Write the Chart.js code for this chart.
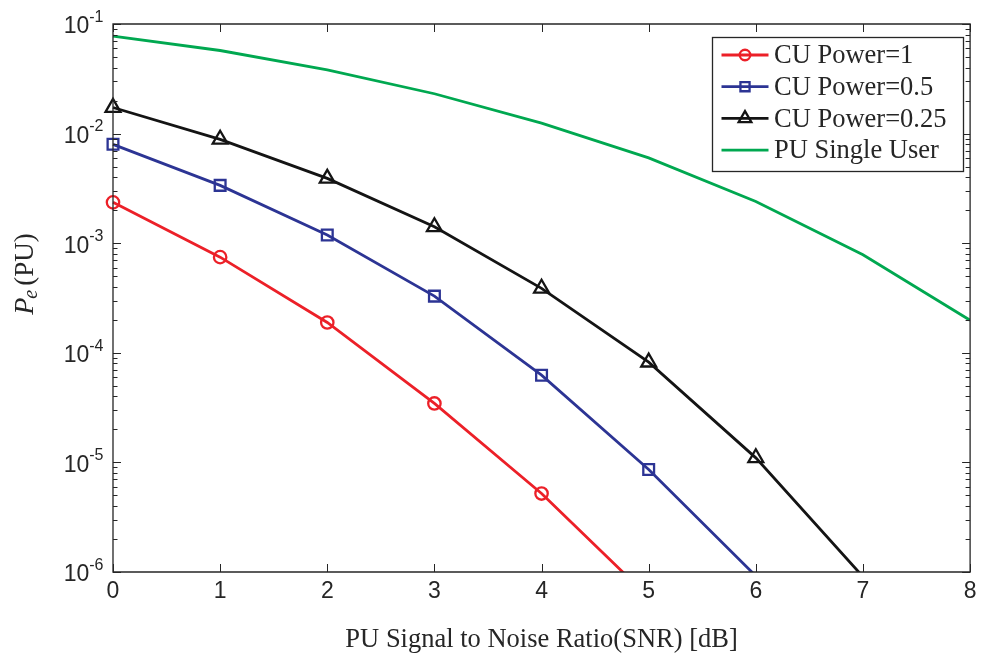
<!DOCTYPE html>
<html>
<head>
<meta charset="utf-8">
<script src="https://cdn.jsdelivr.net/npm/chart.js@4.4.1/dist/chart.umd.min.js"></script>
<style>
html,body{margin:0;padding:0;background:#fff;}
#wrap{width:981px;height:656px;position:relative;}
</style>
</head>
<body>
<div id="wrap"><canvas id="c" width="981" height="656"></canvas></div>
<script>
// ---- data ----
const snrDb = [0, 1, 2, 3, 4, 5, 6, 7, 8];
const cuPower1 = [2.36e-3, 7.46e-4, 1.89e-4, 3.45e-5, 5.20e-6, 5.9e-7];
const cuPower05 = [7.98e-3, 3.37e-3, 1.19e-3, 3.29e-4, 6.25e-5, 8.61e-6, 9.2e-7];
const cuPower025 = [1.73e-2, 8.86e-3, 3.90e-3, 1.41e-3, 3.87e-4, 8.21e-5, 1.10e-5, 9.06e-7];
const puSingleUser = [0.0774, 0.0573, 0.0382, 0.0231, 0.01245, 6.0e-3, 2.40e-3, 7.85e-4, 1.98e-4];
const seriesNames = ['CU Power=1', 'CU Power=0.5', 'CU Power=0.25', 'PU Single User'];
const xTicks = [0, 1, 2, 3, 4, 5, 6, 7, 8];
const yDecades = [-6, -5, -4, -3, -2, -1];
const xTitle = 'PU Signal to Noise Ratio(SNR) [dB]';
const Y_MIN = 1e-6, Y_MAX = 1e-1;

const RED = 'rgb(236,32,40)';
const BLUE = 'rgb(44,52,148)';
const BLACK = 'rgb(20,20,20)';
const GREEN = 'rgb(0,168,80)';
const AXIS = '#262626';

function pts(arr) { return arr.map((v, i) => ({ x: snrDb[i], y: v })); }

const styles = [
  { color: RED, pointStyle: 'circle', radius: 6.2 },
  { color: BLUE, pointStyle: 'rect', radius: 7.6 },
  { color: BLACK, pointStyle: 'triangle', radius: 8.6 },
  { color: GREEN, pointStyle: false, radius: 0 }
];
const seriesData = [cuPower1, cuPower05, cuPower025, puSingleUser];

const datasets = seriesData.map((arr, i) => ({
  label: seriesNames[i],
  data: pts(arr),
  borderColor: styles[i].color,
  borderWidth: 2.8,
  pointStyle: styles[i].pointStyle,
  pointRadius: (c) => (c.raw && c.raw.y < Y_MIN) ? 0 : styles[i].radius,
  pointBorderWidth: 2.3,
  pointBorderColor: styles[i].color,
  pointBackgroundColor: 'rgba(0,0,0,0)',
  tension: 0,
  fill: false,
  clip: { left: 12, top: 0, right: 0, bottom: 0 }
}));

const CA = { left: 113, right: 972, top: 24, bottom: 572 };

const framePlugin = {
  id: 'frame',
  afterDraw(chart) {
    const ctx = chart.ctx;
    const xs = chart.scales.x, ys = chart.scales.y;
    const a = chart.chartArea;
    ctx.save();
    ctx.strokeStyle = AXIS;
    ctx.lineWidth = 1.3;
    ctx.beginPath();
    ctx.rect(a.left, a.top, a.right - a.left, a.bottom - a.top);
    ctx.stroke();
    ctx.lineWidth = 1;
    ctx.beginPath();
    xTicks.forEach(v => {
      const px = Math.round(xs.getPixelForValue(v)) + 0.5;
      ctx.moveTo(px, a.bottom); ctx.lineTo(px, a.bottom - 8);
      ctx.moveTo(px, a.top); ctx.lineTo(px, a.top + 8);
    });
    yDecades.forEach(k => {
      const py = Math.round(ys.getPixelForValue(Math.pow(10, k))) + 0.5;
      ctx.moveTo(a.left, py); ctx.lineTo(a.left + 8, py);
      ctx.moveTo(a.right, py); ctx.lineTo(a.right - 8, py);
      if (k < -1) {
        for (let m = 2; m <= 9; m++) {
          const pm = Math.round(ys.getPixelForValue(m * Math.pow(10, k))) + 0.5;
          ctx.moveTo(a.left, pm); ctx.lineTo(a.left + 4.5, pm);
          ctx.moveTo(a.right, pm); ctx.lineTo(a.right - 4.5, pm);
        }
      }
    });
    ctx.stroke();

    // y tick labels with superscripts
    ctx.fillStyle = AXIS;
    ctx.textBaseline = 'alphabetic';
    ctx.textAlign = 'left';
    yDecades.forEach(k => {
      const py = ys.getPixelForValue(Math.pow(10, k));
      const sup = String(k);
      ctx.font = '16px "Liberation Sans", Arial, sans-serif';
      const ws = ctx.measureText(sup).width;
      ctx.font = '23px "Liberation Sans", Arial, sans-serif';
      const wb = ctx.measureText('10').width;
      const right = a.left - 9.5;
      ctx.fillText('10', right - ws - wb, py + 9.4);
      ctx.font = '16px "Liberation Sans", Arial, sans-serif';
      ctx.fillText(sup, right - ws, py - 2.3);
    });

    // x axis title
    ctx.font = '26.5px "Liberation Serif", "Times New Roman", serif';
    ctx.textAlign = 'center';
    ctx.fillText(xTitle, (a.left + a.right) / 2, 646.5);

    // y axis title  P_e(PU)
    ctx.save();
    ctx.translate(33, 274);
    ctx.rotate(-Math.PI / 2);
    ctx.textAlign = 'left';
    const fP = 'italic 28px "Liberation Serif", "Times New Roman", serif';
    const fe = 'italic 20px "Liberation Serif", "Times New Roman", serif';
    const fR = '27px "Liberation Serif", "Times New Roman", serif';
    ctx.font = fP; const wP = ctx.measureText('P').width;
    ctx.font = fe; const we = ctx.measureText('e').width;
    ctx.font = fR; const wR = ctx.measureText('(PU)').width;
    const total = wP + we + 3 + wR;
    let x0 = -total / 2;
    ctx.font = fP; ctx.fillText('P', x0, 0);
    ctx.font = fe; ctx.fillText('e', x0 + wP - 1, 4);
    ctx.font = fR; ctx.fillText('(PU)', x0 + wP + we + 3, 0);
    ctx.restore();

    // legend
    const lx = 712, ly = 37, lw = 251, lh = 134;
    ctx.fillStyle = '#fff';
    ctx.fillRect(lx, ly, lw, lh);
    ctx.strokeStyle = AXIS;
    ctx.lineWidth = 1.3;
    ctx.strokeRect(lx + 0.5, ly + 0.5, lw, lh);
    seriesNames.forEach((name, i) => {
      const base = 63.3 + i * 31.7;
      const yl = base - 8.3;
      ctx.strokeStyle = styles[i].color;
      ctx.lineWidth = 2.8;
      ctx.beginPath();
      ctx.moveTo(721.5, yl); ctx.lineTo(768.5, yl);
      ctx.stroke();
      if (styles[i].pointStyle) {
        ctx.lineWidth = 2.3;
        ctx.fillStyle = 'rgba(0,0,0,0)';
        Chart.helpers.drawPoint(ctx, {
          pointStyle: styles[i].pointStyle,
          radius: styles[i].radius * 0.85,
          rotation: 0,
          borderWidth: 2.3
        }, 745, yl);
      }
      ctx.fillStyle = AXIS;
      ctx.font = '26.5px "Liberation Serif", "Times New Roman", serif';
      ctx.textAlign = 'left';
      ctx.fillText(name, 774, base);
    });
    ctx.restore();
  }
};

new Chart(document.getElementById('c'), {
  type: 'line',
  data: { datasets: datasets },
  options: {
    responsive: false,
    animation: false,
    events: [],
    layout: { padding: { left: 0, right: 981 - CA.right, top: CA.top, bottom: 0 } },
    plugins: { legend: { display: false }, tooltip: { enabled: false } },
    scales: {
      x: {
        type: 'linear',
        min: 0, max: 8,
        afterBuildTicks(s) { s.ticks = xTicks.map(v => ({ value: v })); },
        ticks: {
          color: AXIS,
          font: { family: '"Liberation Sans", Arial, sans-serif', size: 23 },
          padding: 6,
          maxRotation: 0,
          autoSkip: false
        },
        grid: { display: false, drawTicks: false },
        border: { display: false },
        afterFit(s) { s.height = 656 - CA.bottom; s.paddingLeft = 0; s.paddingRight = 0; }
      },
      y: {
        type: 'logarithmic',
        min: Y_MIN, max: Y_MAX,
        ticks: { display: false },
        grid: { display: false, drawTicks: false },
        border: { display: false },
        afterFit(s) { s.width = CA.left; s.paddingTop = 0; s.paddingBottom = 0; }
      }
    }
  },
  plugins: [framePlugin]
});
</script>
</body>
</html>
